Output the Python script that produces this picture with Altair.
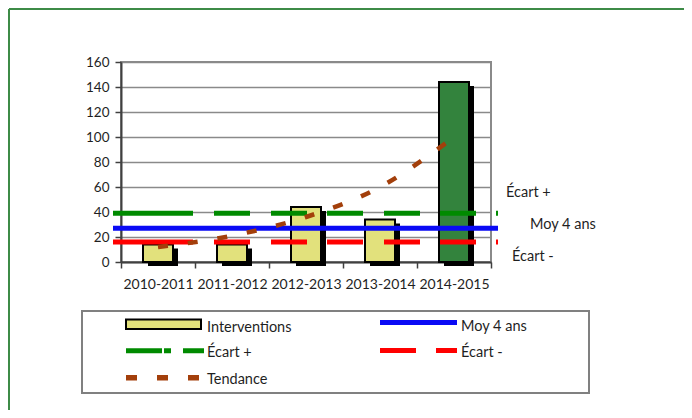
import altair as alt
import pandas as pd

# ---- data ----
seasons = ["2010-2011", "2011-2012", "2012-2013", "2013-2014", "2014-2015"]
interventions = [14, 14, 44, 34, 144]
bar_colors = ["#E2E17C", "#E2E17C", "#E2E17C", "#E2E17C", "#33833D"]
trend = [12, 21, 36, 60, 100]
moy_4_ans = 27
ecart_plus = 39
ecart_minus = 16
y_ticks = [0, 20, 40, 60, 80, 100, 120, 140, 160]
legend_labels = ["Interventions", "Moy 4 ans", "Écart +", "Écart -", "Tendance"]

FONT = "Lato"
TXT = "#1f1f1f"
GREEN = "#008A00"
RED = "#FF0000"
BLUE = "#0A0AF5"
BROWN = "#A33F0B"

bars_df = pd.DataFrame({"season": seasons, "v": interventions, "color": bar_colors})
trend_df = pd.DataFrame({"season": seasons, "v": trend})

xscale = alt.Scale(domain=seasons, paddingInner=0, paddingOuter=0)
yscale = alt.Scale(domain=[0, 160], nice=False)

x_axis = alt.Axis(title=None, labelAngle=0, tickBand="extent", grid=False,
                  tickSize=6, labelPadding=9, labelFontSize=14)
y_axis = alt.Axis(title=None, values=y_ticks, grid=True, tickSize=6,
                  labelPadding=6, labelFontSize=13.5)
x_enc = alt.X("season:N", sort=seasons, scale=xscale, axis=x_axis)
y_enc = alt.Y("v:Q", scale=yscale, axis=y_axis)

def one():
    return pd.DataFrame({"k": [0]})

# outer frame
frame_top = alt.Chart(one()).mark_rule(color="#3d8b47", strokeWidth=2).encode(
    x=alt.value(-112), x2=alt.value(700), y=alt.value(-53))
frame_left = alt.Chart(one()).mark_rule(color="#3d8b47", strokeWidth=2).encode(
    x=alt.value(-112), y=alt.value(-53), y2=alt.value(400))

shadow = alt.Chart(bars_df).mark_bar(width=30, color="black", xOffset=5, yOffset=4, y2Offset=0).encode(
    x=x_enc, y=y_enc)
bars = alt.Chart(bars_df).mark_bar(width=30, stroke="black", strokeWidth=2).encode(
    x=x_enc, y=y_enc, color=alt.Color("color:N", scale=None))

dash_pattern = [80, 21, 36, 21, 36, 20, 36, 21, 36, 20, 36, 20]

def hline(val, color, dash=None):
    kw = dict(color=color, strokeWidth=5)
    if dash:
        kw["strokeDash"] = dash
    return alt.Chart(pd.DataFrame({"v": [val]})).mark_rule(**kw).encode(
        y=y_enc, x=alt.value(-8), x2=alt.value(377))

green_line = hline(ecart_plus, GREEN, dash_pattern)
red_line = hline(ecart_minus, RED, dash_pattern)
blue_line = hline(moy_4_ans, BLUE)

trend_line = alt.Chart(trend_df).mark_line(
    color=BROWN, strokeWidth=4.5, strokeDash=[10, 20], interpolate="monotone").encode(
    x=x_enc, y=y_enc)

def end_label(val, text, xpos, dy):
    return alt.Chart(pd.DataFrame({"v": [val]})).mark_text(
        align="left", baseline="alphabetic", font=FONT, fontSize=14.5, color=TXT, dy=dy).encode(
        y=y_enc, x=alt.value(xpos), text=alt.value(text))

lab_plus = end_label(ecart_plus, legend_labels[2], 385, -16.5)
lab_moy = end_label(moy_4_ans, legend_labels[1], 409, 1)
lab_minus = end_label(ecart_minus, legend_labels[3], 391, 19)

# ---- custom legend ----
leg_box = alt.Chart(one()).mark_rect(fillOpacity=0, stroke="#808080", strokeWidth=2).encode(
    x=alt.value(-39), x2=alt.value(468), y=alt.value(249), y2=alt.value(331))
leg_bar = alt.Chart(one()).mark_rect(fill=bar_colors[0], stroke="black", strokeWidth=2).encode(
    x=alt.value(5), x2=alt.value(80), y=alt.value(257.5), y2=alt.value(267))
leg_blue = alt.Chart(one()).mark_rule(color=BLUE, strokeWidth=5).encode(
    x=alt.value(259), x2=alt.value(336), y=alt.value(260.5))
leg_green = alt.Chart(one()).mark_rule(color=GREEN, strokeWidth=5, strokeDash=[36, 2, 7, 12, 21]).encode(
    x=alt.value(5), x2=alt.value(83), y=alt.value(288.8))
leg_red = alt.Chart(one()).mark_rule(color=RED, strokeWidth=5, strokeDash=[36, 20, 21]).encode(
    x=alt.value(259), x2=alt.value(336), y=alt.value(288.5))
leg_brown = alt.Chart(one()).mark_rule(color=BROWN, strokeWidth=5.5, strokeDash=[11, 20, 11, 20, 11]).encode(
    x=alt.value(5), x2=alt.value(78), y=alt.value(315.8))

def leg_text(text, xpos, ypos):
    return alt.Chart(one()).mark_text(
        align="left", baseline="alphabetic", font=FONT, fontSize=14.5, color=TXT).encode(
        x=alt.value(xpos), y=alt.value(ypos), text=alt.value(text))

leg_texts = [
    leg_text(legend_labels[0], 86, 269.5),
    leg_text(legend_labels[1], 340, 268.5),
    leg_text(legend_labels[2], 86, 294.5),
    leg_text(legend_labels[3], 340, 294.5),
    leg_text(legend_labels[4], 86, 322),
]

chart = alt.layer(
    shadow, bars, green_line, red_line, blue_line, trend_line,
    lab_plus, lab_moy, lab_minus, frame_top, frame_left,
    leg_box, leg_bar, leg_blue, leg_green, leg_red, leg_brown, *leg_texts,
).properties(
    width=370, height=200, autosize="none",
    padding={"left": 113, "top": 54, "right": 193, "bottom": 148},
).configure_axis(
    labelFont=FONT, labelColor=TXT, domainColor="#404040", domainWidth=2,
    tickColor="#404040", tickWidth=1.5, gridColor="#8a8a8a", gridWidth=1.5,
).configure_view(
    stroke="#8a8a8a", strokeWidth=2,
)

chart.save("out.html", embed_options={"renderer": "svg", "actions": False})
